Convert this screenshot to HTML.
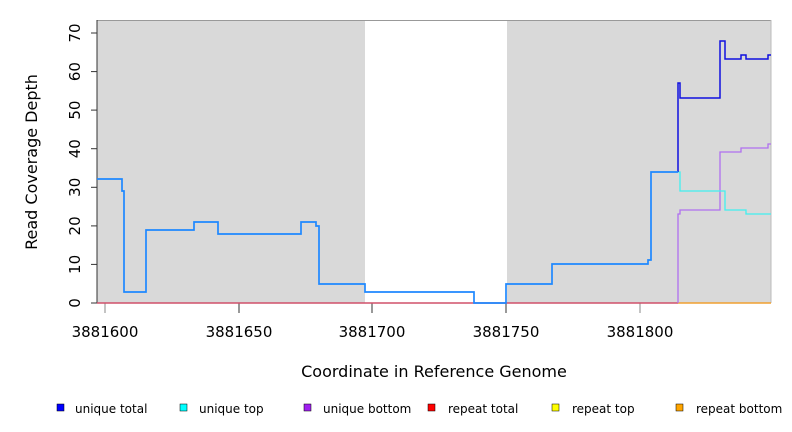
<!DOCTYPE html>
<html><head><meta charset="utf-8"><style>body{margin:0;background:#fff}svg{display:block}</style></head><body>
<svg width="792" height="432" xmlns="http://www.w3.org/2000/svg" font-family="DejaVu Sans, Liberation Sans, sans-serif">
<rect x="97" y="20" width="268" height="283" fill="#d9d9d9"/>
<rect x="507" y="20" width="264" height="283" fill="#d9d9d9"/>
<line x1="97" y1="20.5" x2="771" y2="20.5" stroke="#999" stroke-width="1"/>
<line x1="771" y1="20" x2="771" y2="303" stroke="#bbb"/>
<line x1="97" y1="20" x2="97" y2="303" stroke="#333"/>
<g stroke="#333">
<line x1="91" y1="303" x2="97" y2="303"/><line x1="91" y1="264.4" x2="97" y2="264.4"/><line x1="91" y1="225.9" x2="97" y2="225.9"/><line x1="91" y1="187.3" x2="97" y2="187.3"/><line x1="91" y1="148.7" x2="97" y2="148.7"/><line x1="91" y1="110.1" x2="97" y2="110.1"/><line x1="91" y1="71.6" x2="97" y2="71.6"/><line x1="91" y1="33" x2="97" y2="33"/>
<line x1="105" y1="303" x2="105" y2="313" stroke="#888"/><line x1="239" y1="303" x2="239" y2="313"/><line x1="372" y1="303" x2="372" y2="313"/><line x1="506" y1="303" x2="506" y2="313"/><line x1="640" y1="303" x2="640" y2="313" stroke="#888"/>
</g>
<g font-size="15" fill="#000" text-anchor="middle">
<text transform="translate(75,303) rotate(-90)" dy="5">0</text>
<text transform="translate(75,264.4) rotate(-90)" dy="5">10</text>
<text transform="translate(75,225.9) rotate(-90)" dy="5">20</text>
<text transform="translate(75,187.3) rotate(-90)" dy="5">30</text>
<text transform="translate(75,148.7) rotate(-90)" dy="5">40</text>
<text transform="translate(75,110.1) rotate(-90)" dy="5">50</text>
<text transform="translate(75,71.6) rotate(-90)" dy="5">60</text>
<text transform="translate(75,33) rotate(-90)" dy="5">70</text>
<text x="105" y="337">3881600</text><text x="239" y="337">3881650</text><text x="372" y="337">3881700</text><text x="506" y="337">3881750</text><text x="640" y="337">3881800</text>
<text x="434" y="377" font-size="16">Coordinate in Reference Genome</text>
<text transform="translate(37,162) rotate(-90)" font-size="16">Read Coverage Depth</text>
</g>
<line x1="97" y1="303" x2="678" y2="303" stroke="#d0506a" stroke-width="1.5"/>
<line x1="678" y1="303" x2="771" y2="303" stroke="#f0a030" stroke-width="1.5"/>
<polyline fill="none" stroke="#b070f0" stroke-width="1.3" points="678,303 678,214 680,214 680,210 720,210 720,152 741,152 741,148 768,148 768,144 771,144"/>
<polyline fill="none" stroke="#40f0f0" stroke-width="1.3" points="678,172 680,172 680,191 725,191 725,210 746,210 746,214 771,214"/>
<polyline fill="none" stroke="#1010e0" stroke-width="1.5" points="678,172 678,83 680,83 680,98 720,98 720,41 725,41 725,59 741,59 741,55 746,55 746,59 768,59 768,55 771,55"/>
<polyline fill="none" stroke="#1e88ff" stroke-width="1.7" points="97,179 122,179 122,191 124,191 124,292 146,292 146,230 194,230 194,222 218,222 218,234 301,234 301,222 316,222 316,226 319,226 319,284 365,284 365,292 474,292 474,303 506,303 506,284 552,284 552,264 648,264 648,260 651,260 651,172 678,172"/>
<g font-size="12" fill="#000">
<rect x="57" y="404" width="7" height="7" fill="#0000ff" stroke="#000" stroke-width=".5"/><text x="75" y="413">unique total</text>
<rect x="180" y="404" width="7" height="7" fill="#00ffff" stroke="#000" stroke-width=".5"/><text x="199" y="413">unique top</text>
<rect x="304" y="404" width="7" height="7" fill="#a020f0" stroke="#000" stroke-width=".5"/><text x="323" y="413">unique bottom</text>
<rect x="428" y="404" width="7" height="7" fill="#ff0000" stroke="#000" stroke-width=".5"/><text x="448" y="413">repeat total</text>
<rect x="552" y="404" width="7" height="7" fill="#ffff00" stroke="#000" stroke-width=".5"/><text x="572" y="413">repeat top</text>
<rect x="676" y="404" width="7" height="7" fill="#ffa500" stroke="#000" stroke-width=".5"/><text x="696" y="413">repeat bottom</text>
</g>
</svg>
</body></html>
